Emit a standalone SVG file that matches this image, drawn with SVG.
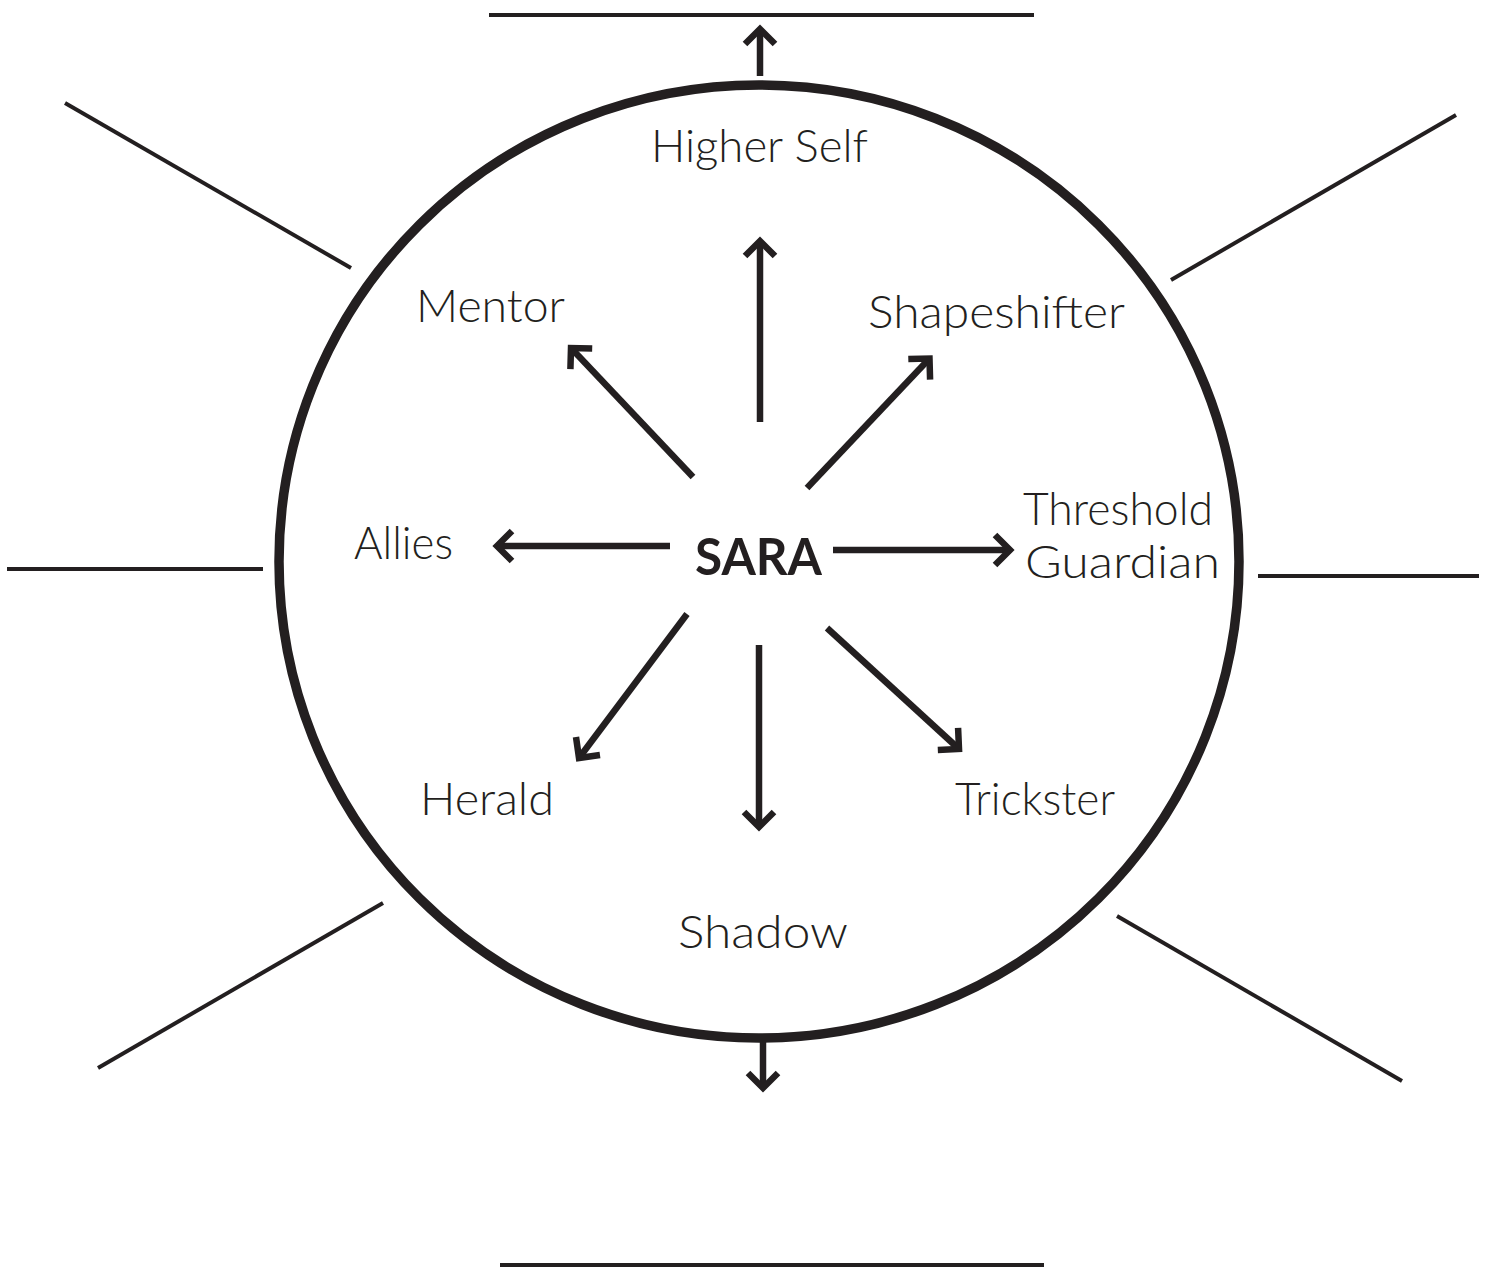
<svg xmlns="http://www.w3.org/2000/svg" width="1487" height="1268" viewBox="0 0 1487 1268">
<style>
.lbl{font-family:"Lato","Open Sans","Liberation Sans",sans-serif;font-weight:300;font-size:45px;fill:#231f20}
.center{font-family:"Lato","Open Sans","Liberation Sans",sans-serif;font-weight:700;font-size:52px;fill:#231f20}
.blank{stroke:#231f20;stroke-width:4;fill:none}
.arrow{stroke:#231f20;stroke-width:6.5;fill:none;marker-end:url(#head)}
.ring{stroke:#231f20;stroke-width:9.5;fill:none}
</style>
<defs>
<marker id="head" markerUnits="userSpaceOnUse" markerWidth="40" markerHeight="40" viewBox="-20 -20 40 40" refX="0" refY="0" orient="auto" overflow="visible">
<path d="M -15,-15 L 0,0 L -15,15" stroke="#231f20" stroke-width="6.5" fill="none" stroke-linejoin="miter" stroke-miterlimit="10"/>
</marker>
</defs>
<rect width="1487" height="1268" fill="#ffffff"/>
<g id="ring"><ellipse class="ring" cx="759" cy="561.5" rx="480" ry="476.5"/></g>
<g id="blanks">
<line class="blank" x1="489" y1="15" x2="1034" y2="15"/>
<line class="blank" x1="500" y1="1265" x2="1044" y2="1265"/>
<line class="blank" x1="7" y1="569" x2="263" y2="569"/>
<line class="blank" x1="1258" y1="576" x2="1479" y2="576"/>
<line class="blank" x1="65" y1="103" x2="351" y2="268"/>
<line class="blank" x1="1171" y1="280" x2="1456" y2="115"/>
<line class="blank" x1="98" y1="1068" x2="383" y2="903"/>
<line class="blank" x1="1117" y1="916" x2="1402" y2="1081"/>
</g>
<g id="connectors">
<line class="arrow" x1="760" y1="76" x2="760" y2="29"/>
<line class="arrow" x1="760" y1="422" x2="760" y2="241"/>
<line class="arrow" x1="693" y1="477" x2="571" y2="348"/>
<line class="arrow" x1="807" y1="488" x2="929.5" y2="358.5"/>
<line class="arrow" x1="670" y1="546" x2="497" y2="546"/>
<line class="arrow" x1="833" y1="550" x2="1010" y2="550"/>
<line class="arrow" x1="687" y1="614" x2="579" y2="758"/>
<line class="arrow" x1="759" y1="645" x2="759" y2="827"/>
<line class="arrow" x1="827" y1="628" x2="959" y2="749"/>
<line class="arrow" x1="763" y1="1042" x2="763" y2="1088"/>
</g>
<g id="node-sara"><text class="center" x="695" y="575" textLength="127" lengthAdjust="spacingAndGlyphs">SARA</text></g>
<g id="node-higher-self"><text class="lbl" x="651" y="162" textLength="217" lengthAdjust="spacingAndGlyphs">Higher Self</text></g>
<g id="node-mentor"><text class="lbl" x="416" y="322" textLength="149" lengthAdjust="spacingAndGlyphs">Mentor</text></g>
<g id="node-shapeshifter"><text class="lbl" x="868" y="328" textLength="257" lengthAdjust="spacingAndGlyphs">Shapeshifter</text></g>
<g id="node-allies"><text class="lbl" x="354" y="559" textLength="99" lengthAdjust="spacingAndGlyphs">Allies</text></g>
<g id="node-threshold-guardian"><text class="lbl" x="1023" y="525" textLength="190" lengthAdjust="spacingAndGlyphs">Threshold</text><text class="lbl" x="1025" y="578" textLength="195" lengthAdjust="spacingAndGlyphs">Guardian</text></g>
<g id="node-herald"><text class="lbl" x="420" y="815" textLength="134" lengthAdjust="spacingAndGlyphs">Herald</text></g>
<g id="node-trickster"><text class="lbl" x="955" y="815" textLength="160" lengthAdjust="spacingAndGlyphs">Trickster</text></g>
<g id="node-shadow"><text class="lbl" x="678" y="948" textLength="170" lengthAdjust="spacingAndGlyphs">Shadow</text></g>
</svg>
